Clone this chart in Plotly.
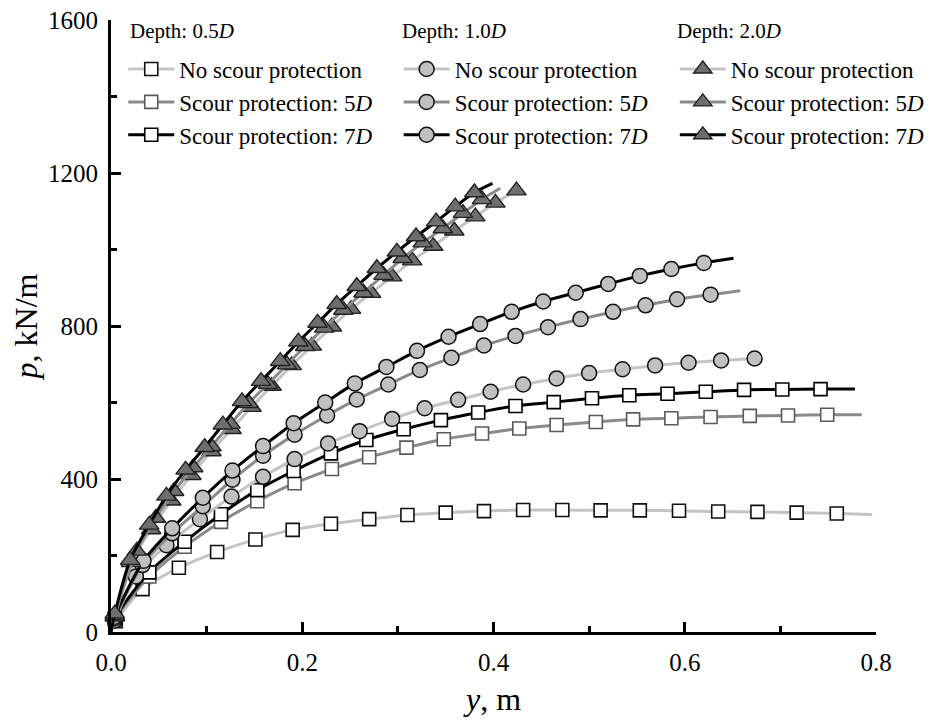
import plotly.graph_objects as go

# ---------------- data ----------------
# Depth 0.5D (squares)
d05_none_x = [0.005, 0.033, 0.071, 0.111, 0.151, 0.190, 0.230, 0.270, 0.310, 0.350, 0.390, 0.431, 0.472, 0.512, 0.553, 0.594, 0.635, 0.676, 0.717, 0.759]
d05_none_y = [28, 112, 168, 209, 242, 267, 283, 295, 306, 312, 316, 319, 319, 318, 318, 317, 315, 314, 312, 310]
d05_none_end = (0.796, 307)

d05_5d_x = [0.004, 0.040, 0.077, 0.115, 0.153, 0.192, 0.231, 0.270, 0.309, 0.348, 0.388, 0.427, 0.466, 0.507, 0.546, 0.586, 0.627, 0.668, 0.708, 0.749]
d05_5d_y = [32, 145, 223, 288, 342, 389, 426, 457, 482, 504, 519, 532, 541, 549, 556, 559, 562, 565, 566, 568]
d05_5d_end = (0.785, 568)

d05_7d_x = [0.004, 0.040, 0.077, 0.115, 0.153, 0.191, 0.230, 0.267, 0.306, 0.345, 0.384, 0.423, 0.463, 0.503, 0.542, 0.582, 0.622, 0.662, 0.702, 0.742]
d05_7d_y = [36, 156, 236, 308, 371, 421, 467, 502, 530, 554, 574, 591, 601, 611, 619, 623, 628, 633, 634, 635]
d05_7d_end = (0.778, 635)

# Depth 1.0D (circles)
d10_none_x = [0.004, 0.026, 0.058, 0.093, 0.126, 0.159, 0.192, 0.227, 0.260, 0.294, 0.328, 0.363, 0.397, 0.431, 0.466, 0.500, 0.535, 0.569, 0.604, 0.638, 0.673]
d10_none_y = [30, 145, 227, 295, 354, 406, 452, 493, 525, 557, 585, 607, 628, 647, 663, 677, 687, 697, 704, 710, 715]
d10_none_end = None

d10_5d_x = [0.004, 0.033, 0.064, 0.096, 0.127, 0.159, 0.192, 0.226, 0.257, 0.290, 0.323, 0.356, 0.390, 0.423, 0.457, 0.491, 0.525, 0.559, 0.592, 0.627]
d10_5d_y = [36, 175, 258, 329, 398, 461, 516, 566, 608, 647, 685, 717, 749, 774, 797, 818, 837, 854, 870, 882]
d10_5d_end = (0.658, 892)

d10_7d_x = [0.004, 0.034, 0.064, 0.096, 0.127, 0.159, 0.191, 0.224, 0.255, 0.288, 0.320, 0.353, 0.386, 0.419, 0.452, 0.486, 0.520, 0.553, 0.586, 0.620]
d10_7d_y = [40, 186, 271, 351, 422, 486, 546, 600, 650, 693, 735, 772, 805, 837, 864, 887, 910, 931, 949, 965]
d10_7d_end = (0.651, 977)

# Depth 2.0D (triangles)
d20_none_x = [0.004, 0.021, 0.042, 0.063, 0.084, 0.105, 0.126, 0.147, 0.168, 0.189, 0.210, 0.231, 0.251, 0.272, 0.294, 0.315, 0.337, 0.359, 0.381, 0.402, 0.424]
d20_none_y = [40, 182, 268, 343, 410, 472, 530, 588, 643, 697, 748, 798, 844, 886, 929, 971, 1009, 1049, 1086, 1122, 1154]
d20_none_end = None

d20_5d_x = [0.004, 0.027, 0.047, 0.066, 0.086, 0.105, 0.125, 0.144, 0.164, 0.184, 0.203, 0.223, 0.243, 0.264, 0.285, 0.305, 0.326, 0.347, 0.368, 0.388]
d20_5d_y = [44, 212, 298, 368, 430, 485, 544, 598, 648, 699, 747, 795, 842, 887, 933, 977, 1018, 1055, 1095, 1131]
d20_5d_end = (0.407, 1160)

d20_7d_x = [0.004, 0.020, 0.040, 0.058, 0.078, 0.098, 0.117, 0.137, 0.157, 0.177, 0.196, 0.216, 0.236, 0.257, 0.278, 0.299, 0.319, 0.340, 0.360, 0.380]
d20_7d_y = [48, 188, 280, 356, 424, 483, 542, 603, 656, 708, 759, 808, 857, 904, 951, 994, 1034, 1073, 1112, 1149]
d20_7d_end = (0.399, 1173)

x_ticks = [0.0, 0.2, 0.4, 0.6, 0.8]
x_tick_labels = ["0.0", "0.2", "0.4", "0.6", "0.8"]
y_ticks = [0, 400, 800, 1200, 1600]
y_tick_labels = ["0", "400", "800", "1200", "1600"]

legend_titles = ["Depth: 0.5<i>D</i>", "Depth: 1.0<i>D</i>", "Depth: 2.0<i>D</i>"]
item_labels = ["No scour protection", "Scour protection: 5<i>D</i>", "Scour protection: 7<i>D</i>"]

# ---------------- styles ----------------
FONT = "Liberation Serif"
line_colors = ["#c4c4c4", "#8a8a8a", "#000000"]
line_width = 3

marker_styles = [
    # squares
    [dict(symbol="square", size=13, color="white", line=dict(color="#111111", width=1.6)),
     dict(symbol="square", size=13, color="white", line=dict(color="#5a5a5a", width=1.6)),
     dict(symbol="square", size=13, color="white", line=dict(color="#000000", width=1.6))],
    # circles
    [dict(symbol="circle", size=15, color="#c0c0c0", line=dict(color="#111111", width=1.5))] * 3,
    # triangles
    [dict(symbol="triangle-up", size=17, color="#6e6e6e", line=dict(color="#222222", width=1.4))] * 3,
]

series = [
    [(d05_none_x, d05_none_y, d05_none_end), (d05_5d_x, d05_5d_y, d05_5d_end), (d05_7d_x, d05_7d_y, d05_7d_end)],
    [(d10_none_x, d10_none_y, d10_none_end), (d10_5d_x, d10_5d_y, d10_5d_end), (d10_7d_x, d10_7d_y, d10_7d_end)],
    [(d20_none_x, d20_none_y, d20_none_end), (d20_5d_x, d20_5d_y, d20_5d_end), (d20_7d_x, d20_7d_y, d20_7d_end)],
]
legend_ids = ["legend", "legend2", "legend3"]
legend_x = [0.016, 0.376, 0.737]
title_x = [0.022, 0.378, 0.737]

fig = go.Figure()

for g, group in enumerate(series):
    for k, (mx, my, end) in enumerate(group):
        lx = [0.0] + list(mx)
        ly = [0.0] + list(my)
        if end is not None:
            lx.append(end[0])
            ly.append(end[1])
        fig.add_trace(go.Scatter(
            x=lx, y=ly, mode="lines",
            line=dict(color=line_colors[k], width=line_width, shape="spline", smoothing=0.8),
            showlegend=False, hoverinfo="skip", cliponaxis=False))
        fig.add_trace(go.Scatter(
            x=mx, y=my, mode="markers", marker=marker_styles[g][k],
            showlegend=False, cliponaxis=False))

# legend entries
for g in range(3):
    for k in range(3):
        fig.add_trace(go.Scatter(
            x=[None], y=[None], mode="lines+markers",
            line=dict(color=line_colors[k], width=line_width),
            marker=marker_styles[g][k],
            name=item_labels[k], legend=legend_ids[g],
            legendgroup=f"g{g}{k}"))

legend_common = dict(
    bgcolor="rgba(0,0,0,0)", borderwidth=0,
    font=dict(family=FONT, size=23, color="black"),
    tracegroupgap=0, itemwidth=46,
    xanchor="left", yanchor="top", y=0.955,
)
layout_legends = {}
for g in range(3):
    layout_legends[legend_ids[g]] = dict(x=legend_x[g], **legend_common)
fig.update_layout(**layout_legends)

# group titles ("Depth: ...")
for g in range(3):
    fig.add_annotation(
        text=legend_titles[g], xref="paper", yref="paper",
        x=title_x[g], y=0.982, xanchor="left", yanchor="middle",
        showarrow=False, font=dict(family=FONT, size=21, color="black"))

axis_common = dict(
    showline=True, linecolor="black", linewidth=3, mirror=False,
    ticks="inside", ticklen=10, tickwidth=3, tickcolor="black",
    showgrid=False, zeroline=False, automargin=False,
    ticklabeloverflow="allow",
    tickfont=dict(family=FONT, size=25, color="black"),
)
fig.update_xaxes(
    range=[0, 0.8], tickvals=x_ticks, ticktext=x_tick_labels,
    minor=dict(ticks="inside", ticklen=6, tickwidth=3, tickcolor="black", dtick=0.1, showgrid=False),
    title=dict(text="<i>y</i>, m", font=dict(family=FONT, size=32, color="black"), standoff=22),
    ticklabelstandoff=6,
    **axis_common)
fig.update_yaxes(
    range=[0, 1600], tickvals=y_ticks, ticktext=y_tick_labels,
    minor=dict(ticks="inside", ticklen=6, tickwidth=3, tickcolor="black", dtick=200, showgrid=False),
    title=dict(text="<i>p</i>, kN/m", font=dict(family=FONT, size=32, color="black"), standoff=18),
    ticklabelstandoff=5,
    **axis_common)

fig.update_layout(
    width=922, height=709,
    margin=dict(l=103, r=54, t=12, b=85, autoexpand=False),
    paper_bgcolor="white", plot_bgcolor="white",
    font=dict(family=FONT, color="black"),
)

fig.write_html("out.html")
